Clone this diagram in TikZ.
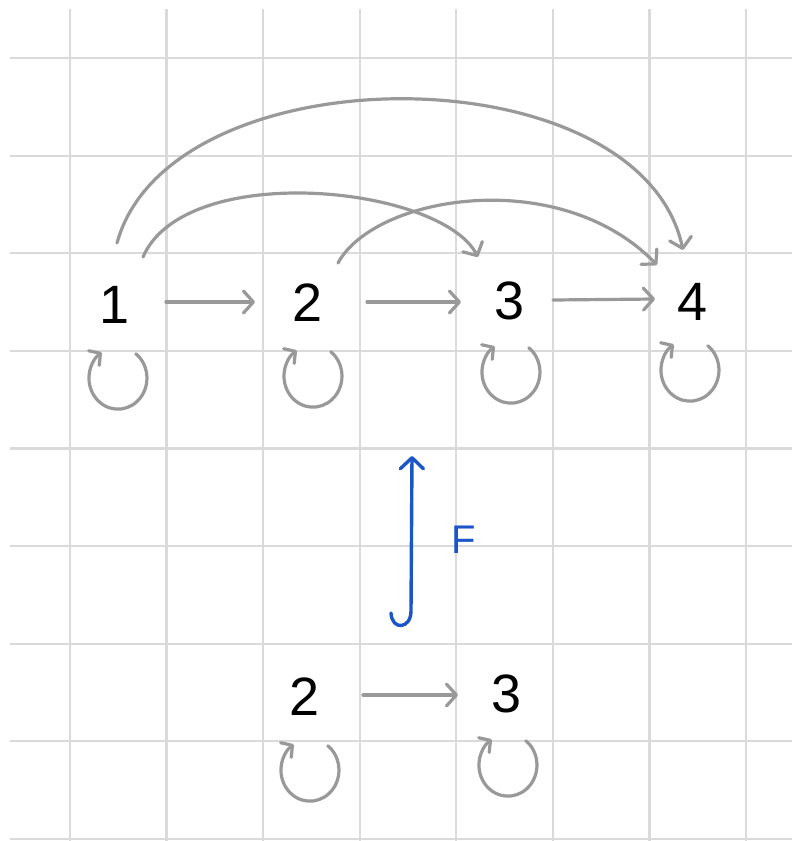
\documentclass[tikz,border=0pt]{standalone}
\usepackage{fontspec}
\setsansfont{Liberation Sans}
\usetikzlibrary{arrows.meta,calc}
\definecolor{gridc}{HTML}{DADADA}
\definecolor{edgec}{HTML}{999999}
\definecolor{funcc}{HTML}{1B55C8}
\newcommand\selfloop[3]{\draw[looparr] ($(#1)+(#2,#3)+(17.8,24.3)$) arc[start angle=52,end angle=-236,x radius=29,y radius=31];}
\begin{document}
\begin{tikzpicture}[x=1pt,y=1pt,
  gridline/.style={gridc, line width=2.2pt},
  vert/.style={font=\sffamily\fontsize{54}{60}\selectfont, inner sep=0pt, text=black},
  edgearr/.style={edgec, line width=3.2pt, line cap=round, line join=round,
    -{Straight Barb[length=10pt,width=22pt,line width=3.2pt,round]}},
  looparr/.style={edgec, line width=3.2pt, line cap=round, line join=round,
    -{Straight Barb[length=8pt,width=18pt,line width=3.2pt,round]}},
  funcarr/.style={funcc, line width=3.4pt, line cap=round, line join=round,
    -{Straight Barb[length=11pt,width=23pt,line width=3.4pt,round]}},
  flabel/.style={font=\sffamily\fontsize{40}{44}\selectfont, inner sep=0pt, text=funcc}]
\useasboundingbox (0,0) rectangle (792,-841);
\fill[white] (0,0) rectangle (792,-841);
% grid
\foreach \i in {0,...,7} \draw[gridline] ({70+96.57*\i},-9) -- ({70+96.57*\i},-841);
\foreach \j in {0,...,8} \draw[gridline] (10,{-58-97.6*\j}) -- (792,{-58-97.6*\j});
% nodes
\node[vert] (n1) at (115,-305) {1};
\node[vert] (n2) at (308,-303) {2};
\node[vert] (n3) at (510,-301) {3};
\node[vert] (n4) at (693,-302) {4};
\node[vert] (m2) at (305,-697) {2};
\node[vert] (m3) at (507,-694) {3};
\node[flabel] (F) at (464,-540) {F};
% straight edges
\draw[edgearr] ($(n1)+(51,3)$) -- ($(n2)+(-53,1)$);
\draw[edgearr] ($(n2)+(59,1)$) -- ($(n3)+(-49,-1)$);
\draw[edgearr] ($(n3)+(43,1)$) -- ($(n4)+(-38,3)$);
\draw[edgearr] ($(m2)+(58,2)$) -- ($(m3)+(-49,-1)$);
% curved edges
\draw[edgearr] ($(n1)+(2,62)$) .. controls +(53,193) and +(-43,200) .. ($(n4)+(-10,52)$);
\draw[edgearr] ($(n1)+(28,48)$) .. controls +(42,97) and +(-38,72) .. ($(n3)+(-32,44)$);
\draw[edgearr] ($(n2)+(30,40)$) .. controls +(37,68) and +(-97,100) .. ($(n4)+(-36,37)$);
% self loops
\selfloop{n1}{3}{-73}
\selfloop{n2}{5}{-73}
\selfloop{n3}{1}{-71}
\selfloop{n4}{-3}{-68}
\selfloop{m2}{5}{-73}
\selfloop{m3}{1}{-71}
% functor arrow
\coordinate (fbot) at (391,-613);
\coordinate (ftop) at (412,-456);
\draw[funcarr] (fbot) .. controls +(1,-18) and +(0,-18) .. ++(20,2) -- (ftop);
\end{tikzpicture}
\end{document}
